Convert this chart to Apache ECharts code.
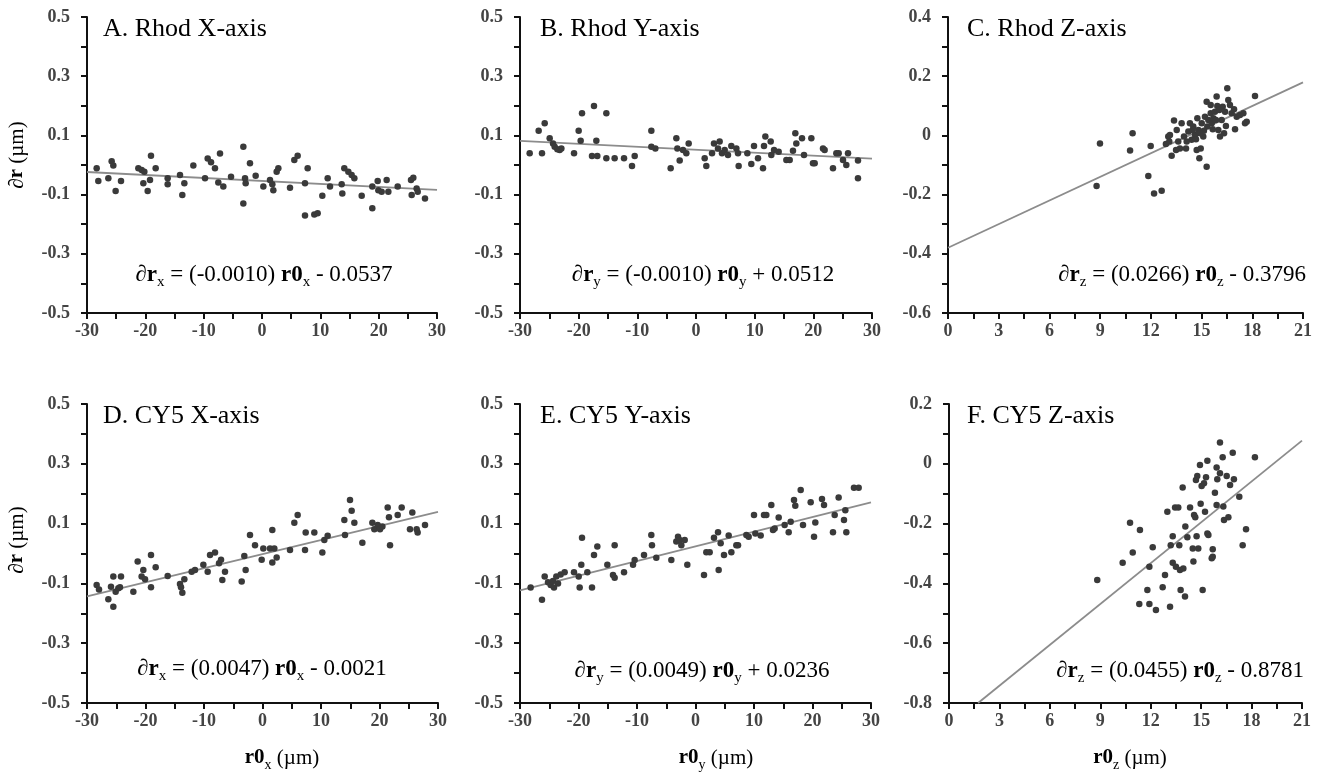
<!DOCTYPE html>
<html>
<head>
<meta charset="utf-8">
<script src="https://cdn.jsdelivr.net/npm/echarts@6/dist/echarts.min.js"></script>
<style>
html,body{margin:0;padding:0;background:#fff;}
#main{width:1325px;height:774px;}
</style>
</head>
<body>
<div id="main"></div>
<script>
// ---------- DATA ----------
const panelTitles = ['A. Rhod X-axis', 'B. Rhod Y-axis', 'C. Rhod Z-axis', 'D. CY5 X-axis', 'E. CY5 Y-axis', 'F. CY5 Z-axis'];

const xyTicks = [-30, -20, -10, 0, 10, 20, 30];
const zTicks = [0, 3, 6, 9, 12, 15, 18, 21];

const rhodXPoints = [[-28.34,-0.011],[-28.06,-0.054],[-26.34,-0.045],[-25.77,0.013],[-25.49,-0.002],[-25.09,-0.088],[-24.17,-0.054],[-21.20,-0.011],[-20.63,-0.017],[-20.17,-0.023],[-20.34,-0.062],[-19.60,-0.088],[-19.20,-0.051],[-19.03,0.031],[-18.23,-0.011],[-16.17,-0.045],[-16.17,-0.065],[-14.06,-0.034],[-13.31,-0.062],[-13.66,-0.101],[-11.77,-0.002],[-9.77,-0.045],[-9.31,0.022],[-8.74,0.009],[-8.06,-0.011],[-7.20,0.039],[-7.49,-0.059],[-6.63,-0.073],[-5.31,-0.040],[-3.20,0.062],[-2.91,-0.045],[-2.80,-0.062],[-3.20,-0.130],[-2.06,0.006],[-1.09,-0.036],[0.23,-0.073],[1.37,-0.051],[1.77,-0.065],[1.94,-0.085],[2.51,-0.023],[2.80,-0.011],[4.80,-0.077],[5.54,0.017],[6.11,0.031],[7.37,-0.062],[7.83,-0.011],[7.37,-0.171],[8.97,-0.167],[9.54,-0.163],[10.34,-0.104],[11.26,-0.045],[11.66,-0.073],[13.66,-0.065],[14.11,-0.011],[14.80,-0.023],[15.37,-0.034],[15.83,-0.045],[13.77,-0.096],[17.09,-0.104],[18.91,-0.073],[18.91,-0.146],[19.83,-0.054],[19.94,-0.085],[20.51,-0.090],[21.37,-0.051],[21.66,-0.090],[23.26,-0.073],[25.54,-0.051],[25.94,-0.043],[25.66,-0.101],[26.51,-0.079],[26.69,-0.090],[27.94,-0.113]];
const rhodXFit = [[-30,-0.0237],[30,-0.0837]];

const rhodYPoints = [[-28.35,0.040],[-26.82,0.116],[-26.25,0.040],[-25.79,0.141],[-24.94,0.090],[-24.37,0.073],[-24.09,0.062],[-23.64,0.053],[-23.24,0.051],[-22.95,0.056],[-20.79,0.040],[-20.00,0.116],[-19.43,0.175],[-19.66,0.082],[-17.39,0.199],[-17.73,0.030],[-16.99,0.082],[-16.82,0.030],[-15.28,0.175],[-15.28,0.023],[-13.87,0.023],[-12.27,0.023],[-10.91,-0.003],[-10.45,0.030],[-7.61,0.116],[-7.61,0.062],[-6.93,0.056],[-4.32,-0.011],[-3.35,0.090],[-3.18,0.056],[-2.78,0.015],[-2.22,0.051],[-1.65,0.040],[-1.25,0.073],[1.48,0.023],[1.76,-0.003],[2.73,0.040],[3.07,0.073],[3.75,0.056],[4.03,0.079],[4.43,0.040],[4.89,0.051],[5.45,0.034],[6.02,0.064],[6.88,0.056],[7.16,0.040],[7.27,-0.003],[8.75,0.040],[9.43,0.003],[9.89,0.064],[10.57,0.023],[11.42,-0.011],[11.59,0.064],[11.82,0.096],[12.73,0.079],[12.84,0.034],[13.30,0.051],[14.09,0.045],[15.40,0.017],[15.97,0.017],[16.53,0.048],[16.93,0.107],[17.10,0.073],[18.07,0.090],[18.41,0.034],[19.66,0.090],[19.94,0.006],[20.23,0.006],[21.65,0.056],[21.93,0.051],[23.35,-0.011],[23.92,0.040],[24.32,0.040],[25.06,0.017],[25.62,0.000],[25.91,0.040],[27.61,0.015],[27.61,-0.045]];
const rhodYFit = [[-30,0.0812],[30,0.0212]];

const rhodZPoints = [[8.99,-0.027],[8.79,-0.171],[10.92,0.007],[10.77,-0.051],[11.85,-0.137],[11.99,-0.036],[12.19,-0.196],[12.64,-0.187],[13.03,-0.004],[12.89,-0.029],[13.13,0.001],[13.23,-0.069],[13.37,0.050],[13.53,0.018],[13.62,-0.021],[13.72,-0.044],[13.82,0.041],[13.96,-0.004],[14.08,-0.044],[14.22,0.013],[14.31,0.041],[14.41,-0.015],[14.51,0.030],[14.61,0.001],[14.75,0.058],[14.81,0.018],[14.71,-0.049],[14.87,-0.077],[14.95,-0.044],[15.01,0.041],[15.10,-0.004],[15.20,0.063],[15.30,0.114],[15.34,0.030],[15.40,0.052],[15.30,-0.106],[15.54,0.075],[15.60,0.041],[15.70,0.058],[15.79,0.080],[15.89,0.131],[15.93,0.099],[15.99,0.018],[16.09,-0.004],[16.19,0.052],[16.25,0.097],[16.33,0.007],[16.39,0.080],[16.52,0.159],[16.58,0.120],[16.68,0.103],[16.78,0.075],[16.92,0.088],[16.98,0.021],[17.08,0.063],[17.27,0.069],[17.47,0.075],[17.57,0.041],[17.67,0.046],[18.16,0.133],[13.09,-0.021],[13.49,-0.049],[14.12,-0.021],[14.47,0.018],[15.14,0.016],[15.66,0.021],[16.05,0.086],[16.44,0.032],[15.85,0.052],[15.54,0.103],[14.67,-0.013],[14.91,0.007]];
const rhodZFit = [[0,-0.3796],[21,0.1790]];

const cy5XPoints = [[-28.35,-0.105],[-27.95,-0.120],[-26.35,-0.153],[-25.90,-0.111],[-25.50,-0.178],[-25.50,-0.077],[-25.10,-0.128],[-24.64,-0.116],[-24.19,-0.077],[-24.36,-0.113],[-22.08,-0.128],[-21.34,-0.027],[-20.66,-0.077],[-20.37,-0.055],[-20.08,-0.086],[-19.06,-0.005],[-19.06,-0.113],[-18.26,-0.046],[-16.21,-0.075],[-14.10,-0.102],[-13.93,-0.113],[-13.70,-0.131],[-13.36,-0.086],[-12.11,-0.061],[-11.54,-0.055],[-10.11,-0.038],[-9.37,-0.061],[-8.97,-0.005],[-8.12,0.003],[-7.43,-0.033],[-7.09,-0.021],[-6.87,-0.089],[-6.41,-0.061],[-3.56,-0.094],[-3.11,-0.008],[-2.88,-0.055],[-2.14,0.062],[-1.28,0.028],[-0.14,-0.021],[0.14,0.017],[1.28,0.017],[1.68,0.079],[1.68,-0.030],[2.02,0.017],[2.42,-0.013],[4.70,0.012],[5.44,0.103],[6.01,0.129],[7.27,0.012],[7.38,0.070],[8.86,0.070],[10.23,0.003],[10.57,0.045],[11.14,0.059],[14.10,0.062],[13.99,0.112],[14.96,0.179],[15.24,0.143],[15.70,0.103],[17.07,0.036],[18.78,0.103],[19.12,0.081],[19.69,0.095],[20.09,0.081],[20.49,0.090],[21.40,0.154],[21.62,0.121],[21.80,0.028],[23.11,0.129],[23.79,0.154],[25.21,0.081],[25.61,0.137],[26.52,0.070],[26.35,0.081],[27.78,0.095]];
const cy5XFit = [[-30,-0.1431],[30,0.1389]];

const cy5YPoints = [[-28.18,-0.114],[-26.24,-0.155],[-25.78,-0.077],[-25.21,-0.096],[-24.76,-0.105],[-24.36,-0.092],[-24.19,-0.114],[-23.79,-0.077],[-23.50,-0.100],[-23.05,-0.070],[-22.37,-0.063],[-20.77,-0.063],[-19.97,-0.077],[-19.80,-0.114],[-19.52,-0.038],[-19.40,0.053],[-18.49,-0.063],[-17.69,-0.114],[-17.35,-0.005],[-16.78,0.023],[-15.07,-0.038],[-14.10,-0.072],[-13.82,-0.081],[-13.82,0.028],[-12.22,-0.063],[-10.68,-0.038],[-10.40,-0.022],[-8.80,-0.005],[-7.55,0.062],[-7.44,0.028],[-6.70,-0.014],[-4.13,-0.022],[-3.28,0.040],[-2.99,0.056],[-2.71,0.045],[-2.42,0.028],[-1.85,0.045],[-1.40,-0.038],[1.45,-0.072],[1.85,0.004],[2.42,0.004],[3.16,0.053],[3.85,0.071],[3.96,-0.055],[4.30,0.034],[4.87,-0.005],[5.67,0.060],[6.13,0.004],[6.98,0.028],[7.27,0.028],[8.69,0.062],[9.09,0.056],[10.00,0.129],[10.23,0.067],[11.14,0.060],[11.71,0.129],[12.11,0.129],[12.96,0.162],[13.25,0.079],[13.53,0.084],[14.22,0.120],[15.24,0.095],[15.93,0.071],[16.27,0.106],[16.84,0.179],[17.06,0.160],[17.98,0.212],[18.38,0.095],[19.69,0.171],[20.26,0.056],[20.48,0.104],[21.62,0.182],[21.97,0.162],[23.50,0.071],[23.79,0.129],[24.47,0.187],[25.38,0.112],[25.61,0.145],[25.78,0.071],[27.09,0.220],[27.89,0.220]];
const cy5YFit = [[-30,-0.1234],[30,0.1706]];

const cy5ZPoints = [[8.82,-0.389],[10.33,-0.331],[10.77,-0.197],[10.93,-0.297],[11.36,-0.221],[11.32,-0.469],[11.80,-0.422],[11.92,-0.469],[11.92,-0.344],[12.12,-0.279],[12.31,-0.489],[12.71,-0.413],[12.85,-0.372],[12.99,-0.160],[13.15,-0.478],[13.19,-0.272],[13.31,-0.242],[13.31,-0.331],[13.45,-0.146],[13.64,-0.146],[13.70,-0.272],[13.50,-0.344],[13.74,-0.355],[13.78,-0.422],[13.90,-0.079],[13.94,-0.350],[14.04,-0.444],[14.06,-0.210],[14.18,-0.246],[14.34,-0.146],[14.50,-0.283],[14.58,-0.171],[14.65,-0.179],[14.73,-0.242],[14.83,-0.283],[14.69,-0.054],[14.77,-0.041],[14.93,-0.004],[14.97,-0.134],[15.09,-0.422],[15.23,-0.160],[15.29,-0.045],[15.37,-0.233],[15.43,-0.238],[15.37,0.010],[15.63,-0.316],[15.69,-0.286],[15.82,-0.097],[15.92,-0.012],[15.96,-0.052],[15.92,-0.138],[16.12,-0.032],[16.28,0.022],[16.32,-0.143],[16.36,-0.188],[16.52,-0.041],[16.62,-0.179],[16.72,-0.071],[16.88,0.037],[16.95,-0.052],[17.27,-0.110],[17.47,-0.272],[17.67,-0.219],[18.20,0.022],[16.12,0.071],[15.69,-0.311],[14.54,-0.327],[15.03,-0.074],[15.17,-0.065]];
const cy5ZFit = [[1.73,-0.8],[21,0.0774]];

// ---------- LAYOUT ----------
const grids = [
  {left: 87,  top: 17,  width: 350, height: 296},
  {left: 520, top: 17,  width: 352, height: 296},
  {left: 948, top: 17,  width: 355, height: 296},
  {left: 87,  top: 404, width: 351, height: 299},
  {left: 520, top: 404, width: 351, height: 299},
  {left: 949, top: 404, width: 353, height: 299}
];
const xRanges = [[-30,30,10],[-30,30,10],[0,21,3],[-30,30,10],[-30,30,10],[0,21,3]];
const yRanges = [[-0.5,0.5],[-0.5,0.5],[-0.6,0.4],[-0.5,0.5],[-0.5,0.5],[-0.8,0.2]];
const pointSets = [rhodXPoints, rhodYPoints, rhodZPoints, cy5XPoints, cy5YPoints, cy5ZPoints];
const fitSets = [rhodXFit, rhodYFit, rhodZFit, cy5XFit, cy5YFit, cy5ZFit];

const SERIF = '"Liberation Serif", "Times New Roman", serif';
const axisColor = '#111';
const tickLabelStyle = {color: '#444', fontFamily: SERIF, fontWeight: 'bold', fontSize: 18};

function fmt(v) {
  const r = Math.round(v * 10) / 10;
  if (Math.abs(r) < 1e-9) return '0';
  return Number.isInteger(r) ? String(r) : r.toFixed(1);
}
function fmtX(v) { return String(Math.round(v)); }

const xAxes = [], yAxes = [], series = [];
grids.forEach((g, i) => {
  xAxes.push({
    type: 'value', gridIndex: i,
    min: xRanges[i][0], max: xRanges[i][1], interval: xRanges[i][2],
    axisLine: {show: true, onZero: false, lineStyle: {color: axisColor, width: 2}},
    axisTick: {show: true, inside: false, length: 6, lineStyle: {color: axisColor, width: 2}},
    minorTick: {show: true, splitNumber: 2, length: 6, lineStyle: {color: axisColor, width: 2}},
    splitLine: {show: false},
    axisLabel: Object.assign({margin: 9, formatter: fmtX}, tickLabelStyle)
  });
  yAxes.push({
    type: 'value', gridIndex: i,
    min: yRanges[i][0], max: yRanges[i][1], interval: 0.2,
    axisLine: {show: true, onZero: false, lineStyle: {color: axisColor, width: 2}},
    axisTick: {show: true, inside: false, length: 6, lineStyle: {color: axisColor, width: 2}},
    minorTick: {show: true, splitNumber: 2, length: 6, lineStyle: {color: axisColor, width: 2}},
    splitLine: {show: false},
    axisLabel: Object.assign({margin: 17, formatter: fmt}, tickLabelStyle)
  });
  series.push({
    type: 'line', xAxisIndex: i, yAxisIndex: i,
    data: fitSets[i], symbol: 'none', silent: true,
    lineStyle: {color: '#8c8c8c', width: 1.8}, z: 2
  });
  series.push({
    type: 'scatter', xAxisIndex: i, yAxisIndex: i,
    data: pointSets[i], symbol: 'circle', symbolSize: 6.5,
    itemStyle: {color: '#3a3a3a', opacity: 1}, z: 3
  });
});

// ---------- TEXT ----------
const rich = {
  n: {fontFamily: SERIF, fontSize: 23, color: '#000', lineHeight: 30},
  b: {fontFamily: SERIF, fontSize: 23, fontWeight: 'bold', color: '#000', lineHeight: 30},
  s: {fontFamily: SERIF, fontSize: 15, color: '#000', lineHeight: 15, verticalAlign: 'bottom'}
};
const richAx = {
  n: {fontFamily: SERIF, fontSize: 21, color: '#000', lineHeight: 28},
  b: {fontFamily: SERIF, fontSize: 21, fontWeight: 'bold', color: '#000', lineHeight: 28},
  s: {fontFamily: SERIF, fontSize: 14, color: '#000', lineHeight: 14, verticalAlign: 'bottom'}
};
function textEl(x, y, str, align, rot, r) {
  return {
    type: 'text', x: x, y: y, rotation: rot || 0, silent: true,
    style: {text: str, rich: r || rich, align: align || 'center', verticalAlign: 'middle'}
  };
}
const titleFont = {fontFamily: SERIF, fontSize: 26, fill: '#000'};
function titleEl(x, y, str) {
  return {type: 'text', x: x, y: y, silent: true,
    style: Object.assign({text: str, align: 'left', verticalAlign: 'middle'}, titleFont)};
}
const equations = [
  '{n|∂}{b|r}{s|x}{n| = (-0.0010) }{b|r0}{s|x}{n| - 0.0537}',
  '{n|∂}{b|r}{s|y}{n| = (-0.0010) }{b|r0}{s|y}{n| + 0.0512}',
  '{n|∂}{b|r}{s|z}{n| = (0.0266) }{b|r0}{s|z}{n| - 0.3796}',
  '{n|∂}{b|r}{s|x}{n| = (0.0047) }{b|r0}{s|x}{n| - 0.0021}',
  '{n|∂}{b|r}{s|y}{n| = (0.0049) }{b|r0}{s|y}{n| + 0.0236}',
  '{n|∂}{b|r}{s|z}{n| = (0.0455) }{b|r0}{s|z}{n| - 0.8781}'
];
const graphics = [
  titleEl(103, 29, panelTitles[0]),
  titleEl(540, 29, panelTitles[1]),
  titleEl(967, 29, panelTitles[2]),
  titleEl(103, 416, panelTitles[3]),
  titleEl(540, 416, panelTitles[4]),
  titleEl(967, 416, panelTitles[5]),
  textEl(264, 275, equations[0], 'center'),
  textEl(703, 275, equations[1], 'center'),
  textEl(1306, 275, equations[2], 'right'),
  textEl(262, 669, equations[3], 'center'),
  textEl(702, 671, equations[4], 'center'),
  textEl(1304, 671, equations[5], 'right'),
  textEl(17, 155, '{n|∂}{b|r}{n| (µm)}', 'center', Math.PI / 2, richAx),
  textEl(17, 540, '{n|∂}{b|r}{n| (µm)}', 'center', Math.PI / 2, richAx),
  textEl(282, 758, '{b|r0}{s|x}{n| (µm)}', 'center', 0, richAx),
  textEl(716, 758, '{b|r0}{s|y}{n| (µm)}', 'center', 0, richAx),
  textEl(1130, 758, '{b|r0}{s|z}{n| (µm)}', 'center', 0, richAx)
];

const chart = echarts.init(document.getElementById('main'), null, {renderer: 'canvas'});
chart.setOption({
  backgroundColor: '#fff',
  animation: false,
  grid: grids.map(g => Object.assign({containLabel: false}, g)),
  xAxis: xAxes,
  yAxis: yAxes,
  series: series,
  graphic: graphics
});
</script>
</body>
</html>
